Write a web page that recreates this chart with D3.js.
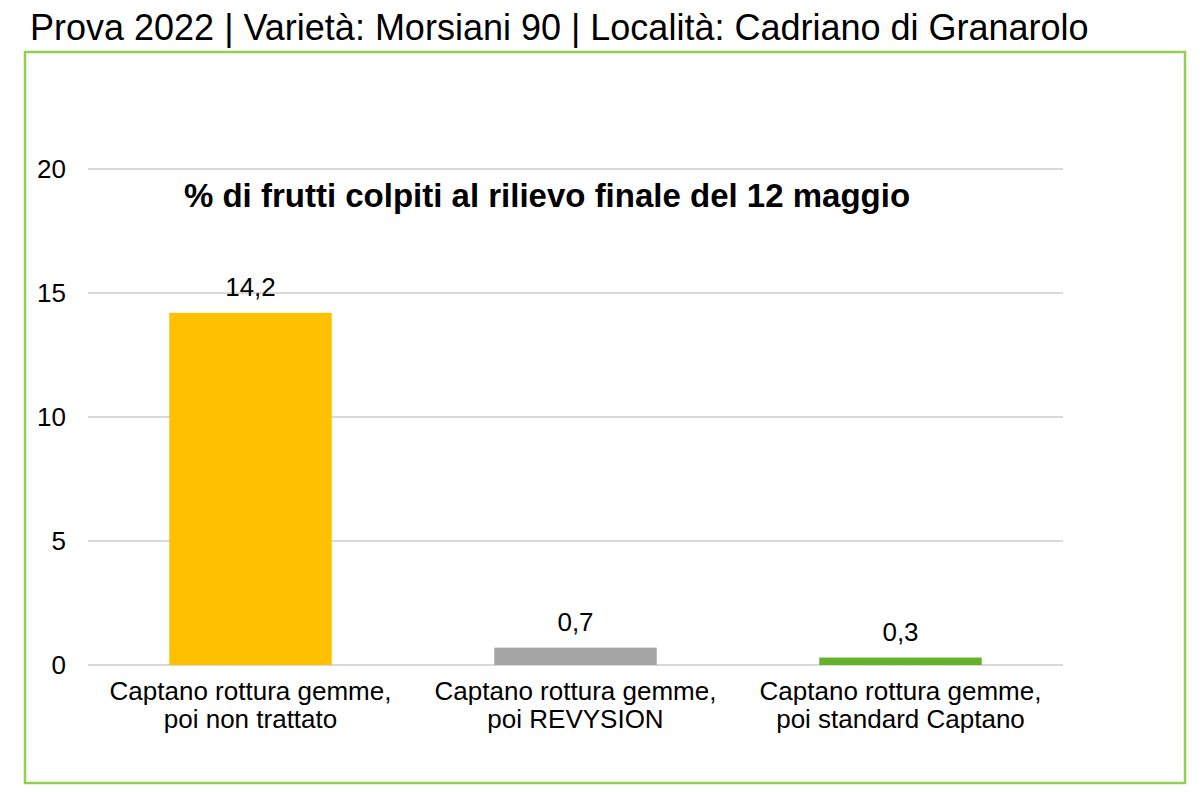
<!DOCTYPE html>
<html><head><meta charset="utf-8">
<script src="https://cdn.jsdelivr.net/npm/d3@7"></script>
<style>body{margin:0;background:#fff}svg{display:block}</style>
</head><body>
<script>
const categories = [["Captano rottura gemme,", "poi non trattato"], ["Captano rottura gemme,", "poi REVYSION"], ["Captano rottura gemme,", "poi standard Captano"]];
const values = [14.2, 0.7, 0.3];
const valueLabels = ["14,2", "0,7", "0,3"];
const colors = ["#FFC000", "#A5A5A5", "#66B12C"];
const yTicks = [0, 5, 10, 15, 20];
const pageTitle = "Prova 2022 | Varietà: Morsiani 90 | Località: Cadriano di Granarolo";
const chartTitle = "% di frutti colpiti al rilievo finale del 12 maggio";

(function () {
const W = 1200, H = 792;
const svg = d3.select("body").append("svg").attr("width", W).attr("height", H);
const font = "'Liberation Sans', Arial, sans-serif";

svg.append("text").attr("x", 30).attr("y", 40).attr("font-family", font).attr("font-size", 36)
  .attr("fill", "#000").text(pageTitle);

svg.append("rect").attr("x", 25).attr("y", 52).attr("width", 1160).attr("height", 731)
  .attr("fill", "none").attr("stroke", "#92D050").attr("stroke-width", 2.5);

const pLeft = 88, pRight = 1063, pTop = 169, pBottom = 665;
const x = d3.scaleBand().domain(d3.range(categories.length)).range([pLeft, pRight]).paddingInner(0.5).paddingOuter(0.25);
const y = d3.scaleLinear().domain([0, 20]).range([pBottom, pTop]);

const g = svg.append("g");
g.selectAll("line.grid").data(yTicks).join("line").attr("class", "grid")
  .attr("x1", pLeft).attr("x2", pRight).attr("y1", d => y(d)).attr("y2", d => y(d))
  .attr("stroke", "#D9D9D9").attr("stroke-width", 2);

g.selectAll("text.ytick").data(yTicks).join("text").attr("class", "ytick")
  .attr("x", 66).attr("y", d => y(d) + 9).attr("text-anchor", "end")
  .attr("font-family", font).attr("font-size", 26).attr("fill", "#000").text(d => d);

g.selectAll("rect.bar").data(values).join("rect").attr("class", "bar")
  .attr("x", (d, i) => x(i)).attr("width", x.bandwidth())
  .attr("y", d => y(d)).attr("height", d => y(0) - y(d))
  .attr("fill", (d, i) => colors[i]);

g.selectAll("text.val").data(values).join("text").attr("class", "val")
  .attr("x", (d, i) => x(i) + x.bandwidth() / 2).attr("y", d => y(d) - 17)
  .attr("text-anchor", "middle").attr("font-family", font).attr("font-size", 26).attr("fill", "#000")
  .text((d, i) => valueLabels[i]);

const cat = g.selectAll("text.cat").data(categories).join("text").attr("class", "cat")
  .attr("x", (d, i) => x(i) + x.bandwidth() / 2).attr("y", 700)
  .attr("text-anchor", "middle").attr("font-family", font).attr("font-size", 26).attr("fill", "#000");
cat.selectAll("tspan").data(d => d).join("tspan")
  .attr("x", function() { return d3.select(this.parentNode).attr("x"); })
  .attr("dy", (d, i) => i === 0 ? 0 : 28).text(d => d);

svg.append("text").attr("x", 547).attr("y", 207).attr("text-anchor", "middle")
  .attr("font-family", font).attr("font-size", 33).attr("font-weight", "bold").attr("fill", "#000")
  .text(chartTitle);
})();
</script>
</body></html>
